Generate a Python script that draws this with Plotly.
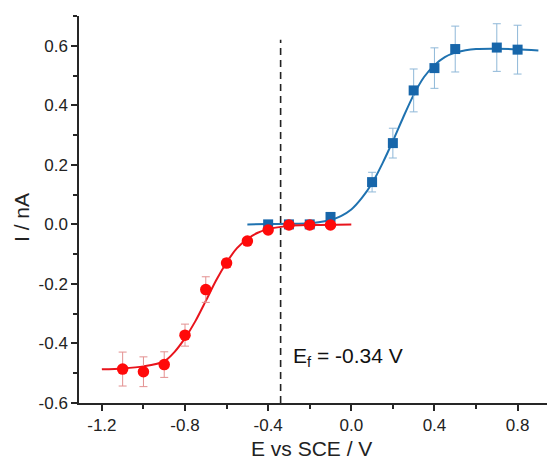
import plotly.graph_objects as go

# Measured data (E vs SCE / V, I / nA)
red_E = [-1.1, -1.0, -0.9, -0.8, -0.7, -0.6, -0.5, -0.4, -0.3, -0.2, -0.1]
red_I = [-0.486, -0.495, -0.471, -0.372, -0.219, -0.130, -0.056, -0.019, -0.002, -0.002, -0.002]
red_err = [0.057, 0.050, 0.043, 0.037, 0.043, 0.015, 0.006, 0.005, 0.004, 0.004, 0.004]

blue_E = [-0.4, -0.3, -0.2, -0.1, 0.1, 0.2, 0.3, 0.4, 0.5, 0.7, 0.8]
blue_I = [0.0, 0.0, 0.0, 0.025, 0.142, 0.273, 0.450, 0.525, 0.589, 0.594, 0.587]
blue_err = [0.005, 0.004, 0.004, 0.010, 0.033, 0.050, 0.072, 0.068, 0.077, 0.080, 0.082]

# Fitted curves
red_fit_E = [-1.2, -1.1, -1.0, -0.9, -0.85, -0.8, -0.75, -0.7, -0.65, -0.6, -0.55, -0.5, -0.45, -0.4, -0.3, -0.2, 0.0]
red_fit_I = [-0.487, -0.484, -0.477, -0.460, -0.428, -0.382, -0.325, -0.257, -0.188, -0.128, -0.080, -0.049, -0.028, -0.016, -0.005, -0.002, 0.0]

blue_fit_E = [-0.5, -0.4, -0.3, -0.2, -0.15, -0.1, -0.05, 0.0, 0.05, 0.1, 0.15, 0.2, 0.25, 0.3, 0.35, 0.4, 0.45, 0.5, 0.55, 0.6, 0.7, 0.8, 0.9]
blue_fit_I = [0.0, 0.001, 0.002, 0.004, 0.008, 0.015, 0.028, 0.050, 0.088, 0.138, 0.205, 0.280, 0.360, 0.435, 0.495, 0.535, 0.562, 0.577, 0.585, 0.589, 0.590, 0.588, 0.584]

Ef = -0.34
dash_I = [-0.6, 0.62]

x_ticks = [-1.2, -0.8, -0.4, 0.0, 0.4, 0.8]
x_ticktext = ["-1.2", "-0.8", "-0.4", "0.0", "0.4", "0.8"]
y_ticks = [-0.6, -0.4, -0.2, 0.0, 0.2, 0.4, 0.6]
y_ticktext = ["-0.6", "-0.4", "-0.2", "0.0", "0.2", "0.4", "0.6"]

RED = "#ff0a0a"
RED_LINE = "#e8141c"
RED_ERR = "#e39090"
BLUE = "#1766aa"
BLUE_LINE = "#1f72b0"
BLUE_ERR = "#8fb8d8"
AX = "#262626"
TXT = "#222222"
FONT = "Liberation Sans, Arial, sans-serif"

# page has an 8px body margin: figure starts at (8, 8)
OFF = 8
W, H = 555 - OFF, 461 - OFF
L, R, T, B = 79 - OFF, 0, 16 - OFF, 58
pw, ph = W - L - R, H - T - B


def paper_xy(page_x, page_y):
    fx, fy = page_x - OFF, page_y - OFF
    return (fx - L) / pw, (H - B - fy) / ph


fig = go.Figure()

fig.add_trace(go.Scatter(x=[Ef, Ef], y=dash_I, mode="lines",
                         line=dict(color="#222222", width=1.6, dash="7px,5px"),
                         hoverinfo="skip", showlegend=False))

fig.add_trace(go.Scatter(x=blue_fit_E, y=blue_fit_I, mode="lines",
                         line=dict(color=BLUE_LINE, width=2, shape="spline", smoothing=0.8),
                         showlegend=False))
fig.add_trace(go.Scatter(x=blue_E, y=blue_I, mode="markers",
                         marker=dict(symbol="square", size=10, color=BLUE),
                         error_y=dict(type="data", array=blue_err, color=BLUE_ERR, thickness=1, width=4),
                         showlegend=False))
fig.add_trace(go.Scatter(x=red_fit_E, y=red_fit_I, mode="lines",
                         line=dict(color=RED_LINE, width=2, shape="spline", smoothing=0.8),
                         showlegend=False))
fig.add_trace(go.Scatter(x=red_E, y=red_I, mode="markers",
                         marker=dict(symbol="circle", size=11.5, color=RED),
                         error_y=dict(type="data", array=red_err, color=RED_ERR, thickness=1, width=4),
                         showlegend=False))

fig.add_annotation(x=-0.29, y=-0.445, xref="x", yref="y", xanchor="left", yanchor="middle",
                   text="E<sub>f</sub> = -0.34 V", showarrow=False,
                   font=dict(family=FONT, size=21, color="#111111"))

# axis titles (placed by page pixel positions)
xt = paper_xy(311, 448)
fig.add_annotation(x=xt[0], y=xt[1], xref="paper", yref="paper", text="E vs SCE / V", showarrow=False,
                   xanchor="center", yanchor="middle", borderpad=0,
                   font=dict(family=FONT, size=21, color=TXT))
yt = paper_xy(21, 218)
fig.add_annotation(x=yt[0], y=yt[1], xref="paper", yref="paper", text="I / nA", showarrow=False,
                   xanchor="center", yanchor="middle", textangle=-90,
                   font=dict(family=FONT, size=21, color=TXT))

fig.update_layout(
    width=W, height=H,
    margin=dict(l=L, r=R, t=T, b=B, autoexpand=False),
    paper_bgcolor="white", plot_bgcolor="white",
    font=dict(family=FONT, color=AX),
    xaxis=dict(range=[-1.31, 0.98], tickvals=x_ticks, ticktext=x_ticktext, automargin=False,
               showgrid=False, zeroline=False, showline=True, linecolor=AX, linewidth=1.5,
               ticks="outside", ticklen=6, tickwidth=1.5, tickcolor=AX,
               tickfont=dict(family=FONT, size=17, color=TXT),
               minor=dict(tickvals=[-1.0, -0.6, -0.2, 0.2, 0.6], ticks="outside", ticklen=4,
                          tickwidth=1.5, tickcolor=AX, showgrid=False)),
    yaxis=dict(range=[-0.6, 0.7], tickvals=y_ticks, ticktext=y_ticktext, automargin=False,
               showgrid=False, zeroline=False, showline=True, linecolor=AX, linewidth=1.5,
               ticks="outside", ticklen=6, tickwidth=1.5, tickcolor=AX,
               tickfont=dict(family=FONT, size=17, color=TXT),
               minor=dict(tickvals=[-0.5, -0.3, -0.1, 0.1, 0.3, 0.5, 0.7], ticks="outside", ticklen=4,
                          tickwidth=1.5, tickcolor=AX, showgrid=False)),
)

fig.write_html("out.html")
